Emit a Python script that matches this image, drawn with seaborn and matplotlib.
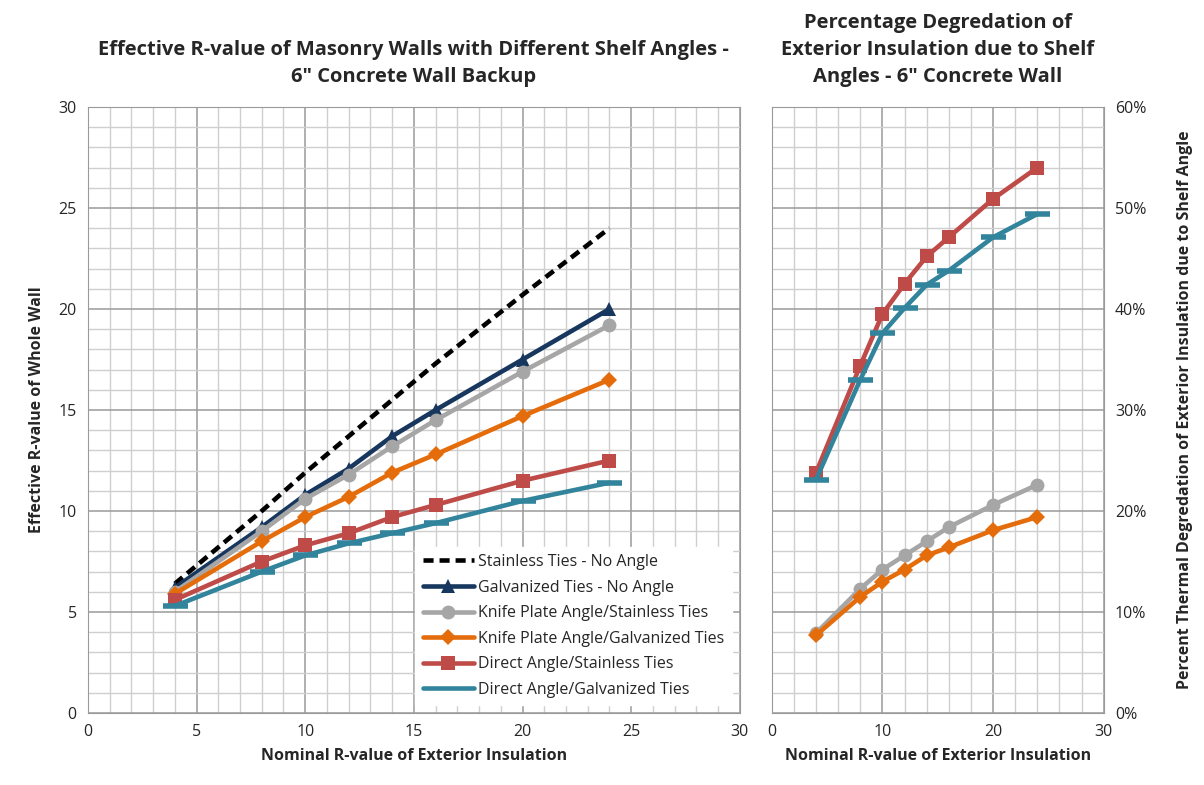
import matplotlib
matplotlib.use('Agg')
import matplotlib.pyplot as plt
from matplotlib.ticker import MultipleLocator, FuncFormatter
import seaborn as sns
import pandas as pd

# nominal R-value of the exterior insulation
nominal_r = [4, 8, 10, 12, 14, 16, 20, 24]

# effective R-value of whole wall (left chart)
stainless_no_angle = [6.4, 10.0, 11.9, 13.7, 15.5, 17.3, 20.7, 24.0]
galvanized_no_angle = [6.2, 9.2, 10.8, 12.1, 13.7, 15.0, 17.5, 20.0]
knife_stainless = [6.0, 9.0, 10.6, 11.8, 13.2, 14.5, 16.9, 19.2]
knife_galvanized = [5.9, 8.5, 9.7, 10.7, 11.9, 12.8, 14.7, 16.5]
direct_stainless = [5.6, 7.5, 8.3, 8.9, 9.7, 10.3, 11.5, 12.5]
direct_galvanized = [5.3, 7.0, 7.8, 8.4, 8.9, 9.4, 10.5, 11.4]

# percentage degradation due to shelf angle (right chart)
pct_knife_stainless = [7.9, 12.3, 14.2, 15.6, 17.0, 18.4, 20.6, 22.6]
pct_knife_galvanized = [7.7, 11.5, 13.0, 14.2, 15.6, 16.4, 18.1, 19.4]
pct_direct_stainless = [23.8, 34.4, 39.5, 42.5, 45.2, 47.1, 50.9, 54.0]
pct_direct_galvanized = [23.1, 33.0, 37.6, 40.1, 42.4, 43.8, 47.1, 49.4]

labels = ['Stainless Ties - No Angle', 'Galvanized Ties - No Angle',
          'Knife Plate Angle/Stainless Ties', 'Knife Plate Angle/Galvanized Ties',
          'Direct Angle/Stainless Ties', 'Direct Angle/Galvanized Ties']

sns.set_style('white')
plt.rcParams['font.family'] = ['Open Sans', 'DejaVu Sans']

# series styles: color, marker, marker size, dashed
styles = {
    labels[0]: ('black', None, 0, True),
    labels[1]: ('#17375E', '^', 10, False),
    labels[2]: ('#A6A6A6', 'o', 10, False),
    labels[3]: ('#E46C0A', 'D', 8.5, False),
    labels[4]: ('#BE4B48', 's', 10, False),
    labels[5]: ('#31849B', '_', 18, False),
}

left_df = pd.DataFrame({'nominal': nominal_r * 6,
                        'value': stainless_no_angle + galvanized_no_angle + knife_stainless
                        + knife_galvanized + direct_stainless + direct_galvanized,
                        'series': [l for l in labels for _ in nominal_r]})
right_df = pd.DataFrame({'nominal': nominal_r * 4,
                         'value': pct_knife_stainless + pct_knife_galvanized
                         + pct_direct_stainless + pct_direct_galvanized,
                         'series': [l for l in labels[2:] for _ in nominal_r]})

fig = plt.figure(figsize=(12.04, 7.85), dpi=100)
ax1 = fig.add_axes([0.073, 0.0917, 0.5415, 0.772])
ax2 = fig.add_axes([0.641, 0.0917, 0.2757, 0.772])


def draw(ax, df):
    for name, grp in df.groupby('series', sort=False):
        color, marker, ms, dashed = styles[name]
        sns.lineplot(data=grp, x='nominal', y='value', ax=ax, color=color,
                     marker=marker, markersize=ms, markeredgecolor=color,
                     markeredgewidth=4 if marker == '_' else 0,
                     linewidth=3.3, linestyle=(0, (2.2, 1.3)) if dashed else '-',
                     label=name, zorder=3, legend=False)


def grid(ax, xmaj, xmin, ymaj, ymin):
    ax.xaxis.set_major_locator(MultipleLocator(xmaj))
    ax.xaxis.set_minor_locator(MultipleLocator(xmin))
    ax.yaxis.set_major_locator(MultipleLocator(ymaj))
    ax.yaxis.set_minor_locator(MultipleLocator(ymin))
    ax.grid(which='major', color='#9A9A9A', linewidth=1.1, zorder=0)
    ax.grid(which='minor', color='#CFCFCF', linewidth=1.0, zorder=0)
    ax.set_axisbelow(True)
    for s in ax.spines.values():
        s.set_color('#9A9A9A')
    ax.tick_params(which='both', length=0, labelsize=11.5, pad=8)


draw(ax1, left_df)
ax1.set_xlim(0, 30)
ax1.set_ylim(0, 30)
grid(ax1, 5, 1, 5, 1)
ax1.set_xlabel('Nominal R-value of Exterior Insulation', fontsize=11.5, fontweight='bold', labelpad=6)
ax1.set_ylabel('Effective R-value of Whole Wall', fontsize=11.5, fontweight='bold', labelpad=10)
ax1.set_title('Effective R-value of Masonry Walls with Different Shelf Angles -\n6" Concrete Wall Backup',
              fontsize=14.5, fontweight='bold', pad=18, linespacing=1.45)

handles, lbls = ax1.get_legend_handles_labels()
leg = ax1.legend(handles, lbls, loc='lower right', fontsize=11.5, frameon=True,
                 framealpha=1, edgecolor='white', fancybox=False, handlelength=3.2,
                 borderpad=0.45, labelspacing=0.6, handletextpad=0.3,
                 bbox_to_anchor=(1.0, 0.0))
for h in leg.legend_handles:
    if h.get_marker() == '_':
        h.set_marker('None')

draw(ax2, right_df)
ax2.set_xlim(0, 30)
ax2.set_ylim(0, 60)
grid(ax2, 10, 2, 10, 2)
ax2.yaxis.tick_right()
ax2.yaxis.set_label_position('right')
ax2.yaxis.set_major_formatter(FuncFormatter(lambda v, p: f'{v:.0f}%'))
ax2.set_xlabel('Nominal R-value of Exterior Insulation', fontsize=11.5, fontweight='bold', labelpad=6)
ax2.set_ylabel('Percent Thermal Degredation of Exterior Insulation due to Shelf Angle',
               fontsize=11.5, fontweight='bold', labelpad=22)
ax2.set_title('Percentage Degredation of\nExterior Insulation due to Shelf\nAngles - 6" Concrete Wall',
              fontsize=14.5, fontweight='bold', pad=18, linespacing=1.45)

fig.savefig('out.png', dpi=100)
